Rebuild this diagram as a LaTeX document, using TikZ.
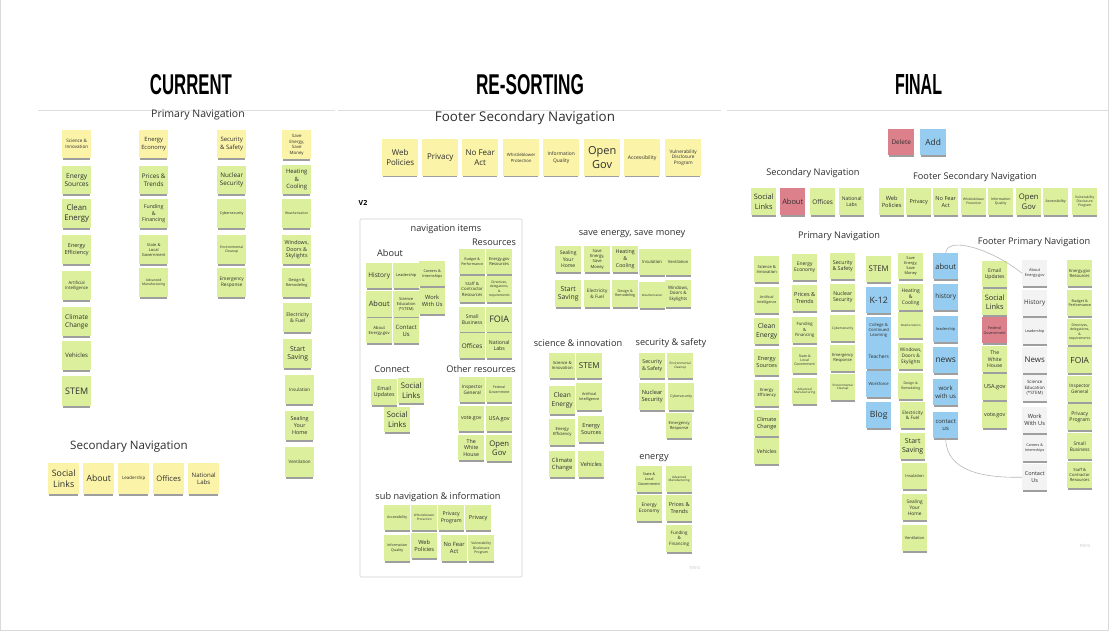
\documentclass[tikz,border=0pt]{standalone}
\usepackage{fontspec}
\usepackage{graphicx}
\setmainfont{Open Sans}
\newfontfamily\ttlfont{Liberation Sans}
\usetikzlibrary{shadows}
\definecolor{yel}{HTML}{FAF3A8}
\definecolor{grn}{HTML}{DCEF9C}
\definecolor{redn}{HTML}{DC808C}
\definecolor{blun}{HTML}{95CCF0}
\definecolor{whn}{HTML}{F3F3F3}
\definecolor{txt}{HTML}{2E2E2E}
\tikzset{
  stk/.style={anchor=north west, inner sep=0pt, align=center, text=txt,
    drop shadow={shadow xshift=0pt, shadow yshift=-2.2pt, shadow scale=0.95, opacity=0.38, fill=black}},
  fs/.code={\pgfmathsetmacro\blsk{#1*1.25}\global\let\blsk\blsk\pgfkeysalso{/tikz/font={\fontsize{#1}{\blsk}\selectfont}}},
  Y/.style={fill=yel}, G/.style={fill=grn}, R/.style={fill=redn}, B/.style={fill=blun}, W/.style={fill=whn},
  ttl/.style={inner sep=0pt, text=txt, font={\fontsize{9.2}{11}\selectfont}},
  hd/.style={anchor=base, inner sep=0pt, text=black, font=\ttlfont\bfseries},
  sep/.style={draw=black!13, line width=0.9pt},
  conn/.style={draw=black!28, line width=0.6pt},
  wm/.style={text=black!22, inner sep=0pt, font={\fontsize{5}{5}\selectfont}}
}
\newcommand\stky[7]{\node[stk,#6,minimum width=#4pt,minimum height=#5pt] (#1) at (#2,#3) {#7};}
\begin{document}
\begin{tikzpicture}[x=1pt,y=-1pt]
\useasboundingbox (0,0) rectangle (1111,633);
\fill[white] (0,0) rectangle (1111,633);
\draw[black!15, line width=0.8pt] (0.6,0) -- (0.6,630.4) -- (1108.6,630.4) -- (1108.6,0);
% headings
\node[hd] (hcur) at (191,94) {\resizebox{82pt}{20pt}{CURRENT}};
\node[hd] (hres) at (530,94) {\resizebox{108pt}{20pt}{RE-SORTING}};
\node[hd] (hfin) at (918.5,94) {\resizebox{47pt}{20pt}{FINAL}};
\draw[sep] (38,110) -- (335,110);
\draw[sep] (338,110) -- (721,110);
\draw[sep] (727,110) -- (1108,110);
% ================= CURRENT
\node[ttl, font={\fontsize{10.5}{12}\selectfont}] (cpn) at (198,115) {Primary Navigation};
\stky{c11}{62}{130}{29}{28}{Y,fs=4.6}{Science \&\\Innovation}
\stky{c12}{62}{166}{29}{28}{G,fs=6.6}{Energy\\Sources}
\stky{c13}{62}{199}{29}{29}{G,fs=7.8}{Clean\\Energy}
\stky{c14}{62}{235}{29}{29}{G,fs=5.5}{Energy\\Efficiency}
\stky{c15}{62}{271}{29}{29}{G,fs=4.3}{Artificial\\Intelligence}
\stky{c16}{62}{307}{29}{29}{G,fs=6.5}{Climate\\Change}
\stky{c17}{62}{341}{29}{29}{G,fs=6}{Vehicles}
\stky{c18}{62}{376}{29}{30}{G,fs=9}{STEM}
\stky{c21}{139}{130}{29}{28}{Y,fs=5.8}{Energy\\Economy}
\stky{c22}{139}{166}{29}{28}{G,fs=6.3}{Prices \&\\Trends}
\stky{c23}{139}{199}{29}{29}{G,fs=5.2}{Funding\\\&\\Financing}
\stky{c24}{139}{235}{29}{29}{G,fs=4}{State \&\\Local\\Government}
\stky{c25}{139}{268}{29}{29}{G,fs=3.4}{Advanced\\Manufacturing}
\stky{c31}{217}{130}{29}{28}{Y,fs=6}{Security\\\& Safety}
\stky{c32}{217}{166}{29}{28}{G,fs=6.3}{Nuclear\\Security}
\stky{c33}{217}{199}{29}{29}{G,fs=3.7}{Cybersecurity}
\stky{c34}{217}{235}{29}{29}{G,fs=3.4}{Environmental\\Cleanup}
\stky{c35}{217}{268}{29}{29}{G,fs=4.7}{Emergency\\Response}
\stky{c41}{282}{130}{29}{29}{Y,fs=4.4}{Save\\Energy,\\Save\\Money}
\stky{c42}{282}{165}{29}{29}{G,fs=5.9}{Heating\\\&\\Cooling}
\stky{c43}{282}{199}{29}{29}{G,fs=3.3}{Weatherization}
\stky{c44}{282}{235}{29}{29}{G,fs=5.4}{Windows,\\Doors \&\\Skylights}
\stky{c45}{282}{268}{29}{29}{G,fs=3.9}{Design \&\\Remodeling}
\stky{c46}{283}{303}{29}{29}{G,fs=5.1}{Electricity\\\& Fuel}
\stky{c47}{283}{339}{29}{29}{G,fs=6.8}{Start\\Saving}
\stky{c48}{285}{375}{29}{29}{G,fs=4.6}{Insulation}
\stky{c49}{285}{411}{29}{29}{G,fs=5.4}{Sealing\\Your\\Home}
\stky{c4a}{285}{447}{29}{30}{G,fs=4.4}{Ventilation}
\node[ttl, font={\fontsize{11.6}{13}\selectfont}] (csn) at (129,446) {Secondary Navigation};
\stky{s1}{48}{463}{31}{31}{Y,fs=8.8}{Social\\Links}
\stky{s2}{83}{463}{31}{31}{Y,fs=8.6}{About}
\stky{s3}{118}{463}{31}{31}{Y,fs=4.5}{Leadership}
\stky{s4}{153}{463}{31}{31}{Y,fs=7.6}{Offices}
\stky{s5}{188}{463}{31}{31}{Y,fs=6.1}{National\\Labs}
% ================= RE-SORTING
\node[ttl, font={\fontsize{13.4}{15}\selectfont}] (rfsn) at (525,118) {Footer Secondary Navigation};
\stky{rf1}{382}{139}{36}{37}{Y,fs=8}{Web\\Policies}
\stky{rf2}{422}{139}{36}{37}{Y,fs=8}{Privacy}
\stky{rf3}{462}{139}{36}{37}{Y,fs=8}{No Fear\\Act}
\stky{rf4}{503}{139}{36}{37}{Y,fs=4.3}{Whistleblower\\Protection}
\stky{rf5}{543}{139}{36}{37}{Y,fs=4.9}{Information\\Quality}
\stky{rf6}{584}{139}{36}{37}{Y,fs=11}{Open\\Gov}
\stky{rf7}{624}{139}{36}{37}{Y,fs=5.1}{Accessibility}
\stky{rf8}{665}{139}{36}{37}{Y,fs=4.7}{Vulnerability\\Disclosure\\Program}
\node[inner sep=0pt, text=black, font={\fontsize{7}{7}\selectfont\bfseries}] (v2) at (363,203) {V2};
\draw[black!18, line width=0.6pt, rounded corners=1pt] (360,219) rectangle (522,577);
\node[ttl] (rni) at (446,229) {navigation items};
\node[ttl] (rres) at (494,242) {Resources};
\node[ttl] (rabh) at (390,253) {About};
\stky{rhist}{366}{263}{26}{25}{G,fs=6.5}{History}
\stky{rlead}{393}{263}{26}{25}{G,fs=3.9}{Leadership}
\stky{rcare}{419}{261}{26}{25}{G,fs=3.8}{Careers \&\\Internships}
\stky{rabt}{366}{291}{26}{26}{G,fs=7.4}{About}
\stky{rsci}{393}{291}{26}{26}{G,fs=4}{Science\\Education\\(*STEM)}
\stky{rwork}{419}{288}{26}{26}{G,fs=5.7}{Work\\With Us}
\stky{raeg}{366}{318}{26}{25}{G,fs=4.2}{About\\Energy.gov}
\stky{rcont}{393}{318}{26}{25}{G,fs=5.9}{Contact\\Us}
\stky{rbud}{459}{249}{26}{25}{G,fs=3.6}{Budget \&\\Performance}
\stky{regr}{486}{249}{26}{25}{G,fs=4.1}{Energy.gov\\Resources}
\stky{rstaff}{459}{276}{26}{26}{G,fs=4.3}{Staff \&\\Contractor\\Resources}
\stky{rdir}{486}{276}{26}{26}{G,fs=3.3}{Directives,\\delegations,\\\&\\requirements}
\stky{rsmall}{459}{307}{26}{25}{G,fs=5}{Small\\Business}
\stky{rfoia}{486}{307}{26}{25}{G,fs=9}{FOIA}
\stky{roff}{459}{333}{26}{25}{G,fs=6.4}{Offices}
\stky{rnl}{486}{333}{26}{25}{G,fs=5.2}{National\\Labs}
\node[ttl] (rcon) at (392,369) {Connect};
\node[ttl] (roth) at (481,369) {Other resources};
\stky{remail}{371}{379}{26}{26}{G,fs=5.3}{Email\\Updates}
\stky{rsoc}{398}{378}{26}{25}{G,fs=7.7}{Social\\Links}
\stky{rsoc2}{384}{407}{26}{25}{G,fs=7.7}{Social\\Links}
\stky{rig}{459}{377}{26}{25}{G,fs=4.7}{Inspector\\General}
\stky{rfed}{486}{377}{26}{25}{G,fs=3.5}{Federal\\Government}
\stky{rvote}{458}{406}{26}{25}{G,fs=5.2}{vote.gov}
\stky{rusa}{486}{406}{26}{25}{G,fs=5.5}{USA.gov}
\stky{rwh}{458}{435}{26}{25}{G,fs=5.3}{The\\White\\House}
\stky{rog}{486}{435}{26}{26}{G,fs=7.7}{Open\\Gov}
\node[ttl] (rsub) at (438,497) {sub navigation \& information};
\stky{racc}{384}{505}{26}{25}{G,fs=3.6}{Accessibility}
\stky{rwb}{411}{505}{26}{25}{G,fs=3.1}{Whistleblower\\Protection}
\stky{rpp}{438}{505}{26}{25}{G,fs=5.2}{Privacy\\Program}
\stky{rpr}{465}{505}{26}{25}{G,fs=5.6}{Privacy}
\stky{riq}{384}{535}{26}{26}{G,fs=3.6}{Information\\Quality}
\stky{rwp}{411}{533}{26}{25}{G,fs=5.7}{Web\\Policies}
\stky{rnf}{441}{535}{26}{26}{G,fs=5.8}{No Fear\\Act}
\stky{rvdp}{468}{535}{26}{26}{G,fs=3.4}{Vulnerability\\Disclosure\\Program}
\node[ttl] (rsave) at (632,234) {save energy, save money};
\stky{rseal}{555}{246}{26}{26}{G,fs=5}{Sealing\\Your\\Home}
\stky{rse}{584}{246}{26}{26}{G,fs=4.2}{Save\\Energy,\\Save\\Money}
\stky{rhc}{612}{246}{26}{26}{G,fs=5.3}{Heating\\\&\\Cooling}
\stky{rins}{639}{249}{26}{26}{G,fs=4.3}{Insulation}
\stky{rvent}{665}{249}{26}{26}{G,fs=4.1}{Ventilation}
\stky{rss}{555}{280}{26}{27}{G,fs=6.8}{Start\\Saving}
\stky{ref}{584}{280}{26}{27}{G,fs=4.6}{Electricity\\\& Fuel}
\stky{rdr}{612}{280}{26}{27}{G,fs=3.6}{Design \&\\Remodeling}
\stky{rwea}{639}{282}{26}{26}{G,fs=2.9}{Weatherization}
\stky{rwin}{665}{280}{26}{27}{G,fs=4.5}{Windows,\\Doors \&\\Skylights}
\node[ttl] (rsci2) at (578,343) {science \& innovation};
\node[ttl] (rsec) at (671,343) {security \& safety};
\stky{rsi}{549}{353}{26}{25}{G,fs=4.2}{Science \&\\Innovation}
\stky{rstem}{576}{353}{26}{25}{G,fs=8.1}{STEM}
\stky{rce}{549}{386}{26}{28}{G,fs=6.6}{Clean\\Energy}
\stky{rai}{576}{383}{26}{27}{G,fs=3.8}{Artificial\\Intelligence}
\stky{ree}{549}{419}{26}{26}{G,fs=4.2}{Energy\\Efficiency}
\stky{res}{578}{416}{26}{26}{G,fs=5.5}{Energy\\Sources}
\stky{rcc}{549}{451}{26}{26}{G,fs=5.8}{Climate\\Change}
\stky{rveh}{578}{451}{26}{26}{G,fs=5.6}{Vehicles}
\stky{rsas}{639}{353}{26}{25}{G,fs=5.3}{Security\\\& Safety}
\stky{renv}{667}{353}{26}{25}{G,fs=3.1}{Environmental\\Cleanup}
\stky{rns}{639}{383}{26}{27}{G,fs=5.7}{Nuclear\\Security}
\stky{rcyb}{668}{383}{26}{27}{G,fs=3.4}{Cybersecurity}
\stky{rer}{666}{413}{26}{25}{G,fs=4.1}{Emergency\\Response}
\node[ttl] (reng) at (654,458) {energy};
\stky{rslg}{636}{466}{26}{26}{G,fs=3.7}{State \&\\Local\\Government}
\stky{ram}{666}{466}{26}{26}{G,fs=3.1}{Advanced\\Manufacturing}
\stky{reeco}{636}{495}{26}{26}{G,fs=4.8}{Energy\\Economy}
\stky{rpt}{666}{495}{26}{26}{G,fs=5.5}{Prices \&\\Trends}
\stky{rff}{666}{525}{26}{27}{G,fs=4.5}{Funding\\\&\\Financing}
\node[wm] (wm1) at (695,568) {miro};
% ================= FINAL
\stky{fdel}{888}{129}{26}{26}{R,fs=6.4}{Delete}
\stky{fadd}{920}{129}{26}{26}{B,fs=8.4}{Add}
\node[ttl] (fsn) at (813,173) {Secondary Navigation};
\node[ttl] (ffsn) at (975,177) {Footer Secondary Navigation};
\stky{fs1}{751}{188}{25}{27}{G,fs=7.4}{Social\\Links}
\stky{fs2}{780}{188}{25}{27}{R,fs=7.4}{About}
\stky{fs3}{810}{188}{25}{27}{G,fs=6.4}{Offices}
\stky{fs4}{839}{188}{25}{27}{G,fs=5}{National\\Labs}
\stky{ff1}{879}{188}{25}{27}{G,fs=5.7}{Web\\Policies}
\stky{ff2}{906}{188}{25}{27}{G,fs=5.5}{Privacy}
\stky{ff3}{933}{188}{25}{27}{G,fs=5.6}{No Fear\\Act}
\stky{ff4}{961}{188}{25}{27}{G,fs=3.2}{Whistleblower\\Protection}
\stky{ff5}{988}{188}{25}{27}{G,fs=3.5}{Information\\Quality}
\stky{ff6}{1016}{188}{25}{27}{G,fs=7.7}{Open\\Gov}
\stky{ff7}{1043}{188}{25}{27}{G,fs=3.6}{Accessibility}
\stky{ff8}{1072}{188}{25}{27}{G,fs=3.3}{Vulnerability\\Disclosure\\Program}
\node[ttl] (fpn) at (839,236) {Primary Navigation};
\stky{fa1}{754}{256}{25}{26}{G,fs=4.1}{Science \&\\Innovation}
\stky{fa2}{754}{287}{25}{26}{G,fs=3.6}{Artificial\\Intelligence}
\stky{fa3}{754}{318}{25}{26}{G,fs=6.7}{Clean\\Energy}
\stky{fa4}{754}{349}{25}{26}{G,fs=5.6}{Energy\\Sources}
\stky{fa5}{754}{380}{25}{26}{G,fs=4.2}{Energy\\Efficiency}
\stky{fa6}{754}{410}{25}{26}{G,fs=5.5}{Climate\\Change}
\stky{fa7}{754}{438}{25}{26}{G,fs=5.2}{Vehicles}
\stky{fb1}{792}{254}{25}{26}{G,fs=4.9}{Energy\\Economy}
\stky{fb2}{792}{285}{25}{26}{G,fs=5.6}{Prices \&\\Trends}
\stky{fb3}{792}{317}{25}{26}{G,fs=4.3}{Funding\\\&\\Financing}
\stky{fb4}{792}{347}{25}{26}{G,fs=3.5}{State \&\\Local\\Government}
\stky{fb5}{792}{378}{25}{26}{G,fs=3.1}{Advanced\\Manufacturing}
\stky{fc1}{830}{253}{25}{26}{G,fs=5.3}{Security\\\& Safety}
\stky{fc2}{830}{284}{25}{26}{G,fs=5.2}{Nuclear\\Security}
\stky{fc3}{830}{315}{25}{26}{G,fs=3.3}{Cybersecurity}
\stky{fc4}{830}{345}{25}{26}{G,fs=4.1}{Emergency\\Response}
\stky{fc5}{830}{374}{25}{26}{G,fs=3}{Environmental\\Cleanup}
\stky{fd1}{866}{256}{25}{26}{G,fs=7.8}{STEM}
\stky{fd2}{866}{287}{25}{26}{B,fs=8.8}{K-12}
\stky{fd3}{866}{317}{25}{26}{B,fs=4.2}{College \&\\Continued\\Learning}
\stky{fd4}{866}{343}{25}{26}{B,fs=4.9}{Teachers}
\stky{fd5}{866}{371}{25}{26}{B,fs=4.2}{Workforce}
\stky{fd6}{866}{402}{25}{26}{B,fs=8.6}{Blog}
\stky{fe1}{898}{253}{25}{26}{G,fs=3.9}{Save\\Energy,\\Save\\Money}
\stky{fe2}{898}{284}{25}{26}{G,fs=5}{Heating\\\&\\Cooling}
\stky{fe3}{898}{312}{25}{26}{G,fs=2.8}{Weatherization}
\stky{fe4}{898}{343}{25}{26}{G,fs=4.8}{Windows,\\Doors \&\\Skylights}
\stky{fe5}{898}{373}{25}{26}{G,fs=3.4}{Design \&\\Remodeling}
\stky{fe6}{900}{402}{25}{26}{G,fs=4.6}{Electricity\\\& Fuel}
\stky{fe7}{900}{433}{25}{26}{G,fs=7}{Start\\Saving}
\stky{fe8}{902}{463}{25}{26}{G,fs=4}{Insulation}
\stky{fe9}{902}{494}{25}{26}{G,fs=4.8}{Sealing\\Your\\Home}
\stky{fea}{902}{525}{25}{26}{G,fs=3.9}{Ventilation}
\stky{fabout}{933}{253}{25}{26}{B,fs=7.6}{about}
\stky{fhist}{933}{284}{25}{26}{B,fs=6.5}{history}
\stky{flead}{933}{316}{25}{26}{B,fs=3.9}{leadership}
\stky{fnews}{933}{347}{25}{26}{B,fs=8.4}{news}
\stky{fwork}{933}{379}{25}{26}{B,fs=6.1}{work\\with us}
\stky{fcontact}{933}{412}{25}{26}{B,fs=5.9}{contact\\us}
\node[ttl] (ffpn) at (1034,242) {Footer Primary Navigation};
\stky{fpa1}{982}{261}{25}{26}{G,fs=5.1}{Email\\Updates}
\stky{fpa2}{982}{289}{25}{26}{G,fs=7.4}{Social\\Links}
\stky{fpa3}{982}{317}{25}{26}{R,fs=3.8}{Federal\\Government}
\stky{fpa4}{982}{346}{25}{26}{G,fs=5.1}{The\\White\\House}
\stky{fpa5}{982}{374}{25}{26}{G,fs=5.6}{USA.gov}
\stky{fpa6}{982}{402}{25}{26}{G,fs=5.4}{vote.gov}
\stky{fpaeg}{1022}{260}{25}{26}{W,fs=3.9}{About\\Energy.gov}
\stky{fpb2}{1022}{290}{25}{26}{W,fs=6.3}{History}
\stky{fpb3}{1022}{318}{25}{26}{W,fs=3.7}{Leadership}
\stky{fpb4}{1022}{347}{25}{26}{W,fs=7.9}{News}
\stky{fpb5}{1022}{375}{25}{26}{W,fs=4.4}{Science\\Education\\(*STEM)}
\stky{fpb6}{1022}{407}{25}{26}{W,fs=5.7}{Work\\With Us}
\stky{fpb7}{1022}{435}{25}{26}{W,fs=3.7}{Careers \&\\Internships}
\stky{fpcont}{1022}{464}{25}{26}{W,fs=5.5}{Contact\\Us}
\stky{fpc1}{1067}{260}{25}{26}{G,fs=4.2}{Energy.gov\\Resources}
\stky{fpc2}{1067}{290}{25}{26}{G,fs=3.7}{Budget \&\\Performance}
\stky{fpc3}{1067}{319}{25}{26}{G,fs=3.4}{Directives,\\delegations,\\\&\\requirements}
\stky{fpc4}{1067}{347}{25}{26}{G,fs=8.4}{FOIA}
\stky{fpc5}{1067}{376}{25}{26}{G,fs=4.7}{Inspector\\General}
\stky{fpc6}{1067}{404}{25}{26}{G,fs=5.1}{Privacy\\Program}
\stky{fpc7}{1067}{433}{25}{26}{G,fs=4.8}{Small\\Business}
\stky{fpc8}{1067}{462}{25}{26}{G,fs=4.1}{Staff \&\\Contractor\\Resources}
\node[wm] (wm2) at (1085,546) {miro};
% connectors
\draw[conn] (fabout.north) .. controls (947,236) and (990,248) .. (fpaeg.west);
\draw[conn] (fcontact.south) .. controls (946,472) and (985,478) .. (fpcont.west);
\end{tikzpicture}
\end{document}
